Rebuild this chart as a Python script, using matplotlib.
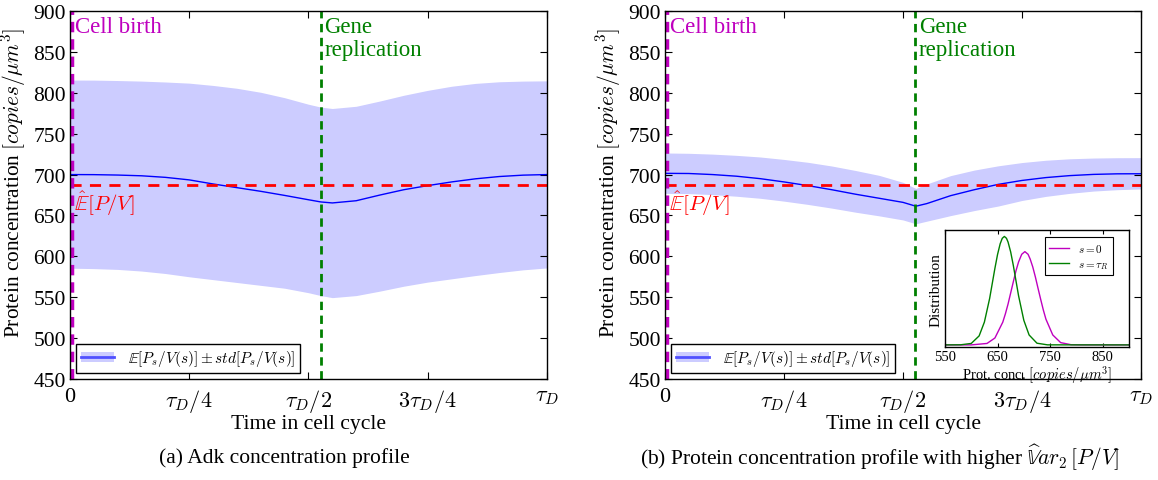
import numpy as np
import matplotlib
matplotlib.use("Agg")
import matplotlib.pyplot as plt
from matplotlib.patches import Patch
from matplotlib.lines import Line2D

# %% data (x in fractions of tau_D)
s_a = [0, .05, .1, .15, .2, .25, .3, .35, .4, .45, .5, .526, .55, .6, .65, .7, .75, .8, .85, .9, .95, 1.0]
mean_a = [700, 699.9, 699.4, 698.5, 696.6, 693.5, 688.5, 684, 679.5, 674.5, 669.2, 666.5, 665.3,
          668, 675, 681.5, 686.5, 691, 694.8, 697.6, 699.3, 700]
upper_a = [815.6, 815.5, 815, 814.3, 813.2, 811.8, 809, 805.5, 800.6, 794, 786, 782.5, 780.8,
           783.5, 790, 797, 803, 808, 811.5, 813.5, 814.3, 814.6]
lower_a = [585.5, 585, 584, 582, 579, 575, 571.5, 568, 564.5, 561, 555.5, 552, 549.5,
           552, 557.5, 563.5, 568.5, 572.5, 576.5, 580.2, 583.5, 585.8]

s_b = [0, .05, .1, .15, .2, .25, .3, .35, .4, .45, .5, .527, .55, .6, .65, .7, .75, .8, .85, .9, .95, 1.0]
mean_b = [701.5, 701.3, 700, 698, 695, 691, 686.5, 681.5, 676, 671, 666, 661.3, 664.5,
          674.2, 681.5, 688, 692.8, 696.3, 698.7, 700.2, 700.9, 701]
upper_b = [726.4, 726, 725, 723.5, 721.5, 718.5, 715, 710.5, 705, 699, 690.5, 683, 688.5,
           698.7, 705.5, 710.7, 714.7, 717.5, 719.3, 720.2, 720.6, 720.7]
lower_b = [677, 676.7, 675.5, 673.5, 671, 667.5, 663.5, 659, 654, 649.5, 644.5, 639.8, 643,
           649.8, 656, 661.5, 668.3, 673.3, 677, 679.8, 681.5, 682.4]

mean_PV = 687.5
s_birth = 0.004
s_rep = 0.526

# inset: distributions at s=0 and s=tau_R (density x 1e-3)
conc_s0 = [550, 600, 630, 645, 660, 665, 670, 675, 680, 685, 690, 696, 702, 708, 712, 717, 722,
           727, 732, 737, 742, 755, 770, 790, 810, 900]
dens_s0 = [0, 0, 0.25, 1.18, 3.9, 5.34, 7.0, 8.9, 10.8, 12.67, 14.2, 15.51, 15.96, 15.51, 14.7,
           13.33, 11.6, 9.68, 7.8, 5.99, 4.4, 1.7, 0.39, 0.03, 0, 0]
conc_sR = [550, 580, 600, 615, 625, 635, 645, 650, 655, 659, 663, 667, 670, 675, 680, 690, 700,
           710, 725, 745, 900]
dens_sR = [0, 0.02, 0.25, 1.54, 3.9, 7.95, 13.1, 15.46, 17.3, 18.24, 18.56, 18.24, 17.6, 15.9,
           13.6, 8.4, 4.2, 1.7, 0.29, 0.01, 0]

xticks = [0, 0.25, 0.5, 0.75, 1.0]
xticklabels = ["0", r"$\tau_D/4$", r"$\tau_D/2$", r"$3\tau_D/4$", r"$\tau_D$"]
yticks = list(range(450, 901, 50))

# %% plot
config = {
    "font.family": ["Liberation Serif", "DejaVu Serif"],
    "mathtext.fontset": "cm",
    "font.size": 14,
    "xtick.direction": "in",
    "ytick.direction": "in",
    "xtick.top": True,
    "ytick.right": True,
    "xtick.major.size": 5,
    "ytick.major.size": 5,
    "axes.linewidth": 1.0,
}
plt.rcParams.update(config)

band_col = "#ccccff"
fig = plt.figure(figsize=(11.58, 4.81), dpi=100)
ax_a = fig.add_axes([0.0604, 0.21, 0.412, 0.765])
ax_b = fig.add_axes([0.5743, 0.21, 0.411, 0.765])

panels = [(ax_a, s_a, mean_a, upper_a, lower_a), (ax_b, s_b, mean_b, upper_b, lower_b)]
for ax, s, m, up, lo in panels:
    ax.fill_between(s, lo, up, color=band_col, lw=0)
    ax.plot(s, m, color="blue", lw=1)
    ax.axhline(mean_PV, color="red", ls="--", lw=2, dashes=(4, 3))
    ax.axvline(s_birth, color="m", ls="--", lw=2.5, dashes=(3, 2))
    ax.axvline(s_rep, color="green", ls="--", lw=2, dashes=(3, 2))
    ax.text(s_birth + 0.006, 894, "Cell birth", color="m", va="top", ha="left", fontsize=16.5)
    ax.text(s_rep + 0.007, 894, "Gene\nreplication", color="green", va="top", ha="left",
            fontsize=16.5, linespacing=1.1)
    ax.text(s_birth + 0.004, 683, r"$\hat{\mathbb{E}}[P/V]$", color="red", va="top", ha="left",
            fontsize=15)
    ax.set_xlim(0, 1)
    ax.set_ylim(450, 900)
    ax.set_xticks(xticks)
    ax.set_xticklabels(xticklabels, fontsize=16)
    ax.set_yticks(yticks)
    ax.tick_params(axis="y", labelsize=15.5, pad=3)
    ax.tick_params(axis="x", pad=6)
    ax.set_xlabel("Time in cell cycle", fontsize=15.6, labelpad=0)
    ax.set_ylabel(r"Protein concentration $[copies/\mu m^3]$", fontsize=15.4)
    ax.yaxis.set_label_coords(-0.088, 0.535)
    handle = (Patch(facecolor=band_col, edgecolor="none"), Line2D([0], [0], color="#5050ff", lw=2))
    leg = ax.legend([handle], [r"$\mathbb{E}[P_s/V(s)] \pm std[P_s/V(s)]$"], loc="lower left",
                    fontsize=11, fancybox=False, framealpha=1, edgecolor="black",
                    handlelength=2.2, handletextpad=0.9, borderaxespad=0.4, borderpad=0.3)
    leg.get_frame().set_linewidth(1.0)

fig.text(0.246, 0.048, "(a) Adk concentration profile", ha="center", va="center", fontsize=15.5)
fig.text(0.76, 0.048, r"(b) Protein concentration profile with higher $\widehat{\mathbb{V}}ar_2\,[P/V]$",
         ha="center", va="center", fontsize=15.5)

# inset
ax_in = fig.add_axes([0.816, 0.276, 0.159, 0.243])
ax_in.plot(conc_s0, dens_s0, color="m", lw=1, label=r"$s=0$")
ax_in.plot(conc_sR, dens_sR, color="green", lw=1, label=r"$s=\tau_R$")
ax_in.set_xlim(550, 900)
ax_in.set_ylim(-0.4, 19.6)
ax_in.set_xticks([550, 650, 750, 850])
ax_in.set_yticks([])
ax_in.tick_params(axis="x", labelsize=10.5, pad=2, length=3)
ax_in.set_xlabel(r"Prot. conc. $[copies/\mu m^3]$", fontsize=10.5, labelpad=0)
ax_in.set_ylabel("Distribution", fontsize=11, labelpad=2)
leg_in = ax_in.legend(loc="upper right", bbox_to_anchor=(0.913, 0.94), fontsize=8,
                      fancybox=False, framealpha=1, edgecolor="black", handlelength=1.8,
                      borderaxespad=0)
leg_in.get_frame().set_linewidth(0.8)

plt.savefig("out.png", dpi=100)
plt.close()
